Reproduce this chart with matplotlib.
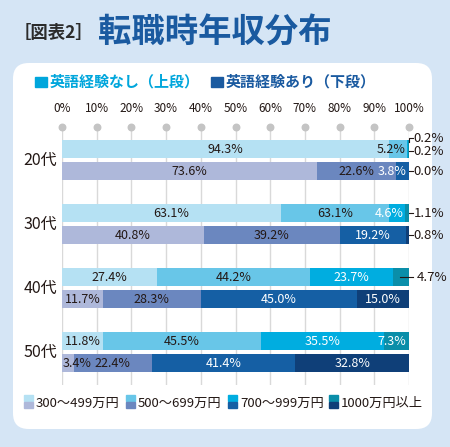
import matplotlib
matplotlib.use("Agg")
import matplotlib.pyplot as plt
from matplotlib.patches import FancyBboxPatch, Rectangle
import numpy as np

# ---- data ----
groups = ["20代", "30代", "40代", "50代"]
bands = ["300～499万円", "500～699万円", "700～999万円", "1000万円以上"]
upper_vals = [[94.3, 5.2, 0.2, 0.2],
              [63.1, 31.2, 4.6, 1.1],
              [27.4, 44.2, 23.7, 4.7],
              [11.8, 45.5, 35.5, 7.3]]
lower_vals = [[73.6, 22.6, 3.8, 0.0],
              [40.8, 39.2, 19.2, 0.8],
              [11.7, 28.3, 45.0, 15.0],
              [3.4, 22.4, 41.4, 32.8]]
# printed labels inside the bars (as in the source, incl. its 63.1% typo)
upper_txt = [["94.3%", "5.2%", "", ""],
             ["63.1%", "63.1%", "4.6%", ""],
             ["27.4%", "44.2%", "23.7%", ""],
             ["11.8%", "45.5%", "35.5%", "7.3%"]]
lower_txt = [["73.6%", "22.6%", "3.8%", ""],
             ["40.8%", "39.2%", "19.2%", ""],
             ["11.7%", "28.3%", "45.0%", "15.0%"],
             ["3.4%", "22.4%", "41.4%", "32.8%"]]
ticks = [0, 10, 20, 30, 40, 50, 60, 70, 80, 90, 100]

up_colors = ["#b5e1f3", "#68c6e8", "#00ade0", "#0a8ea9"]
lo_colors = ["#aeb8da", "#6b87bf", "#155fa4", "#0f3f78"]
dark = "#231815"
NUM = ["Liberation Sans Narrow", "Noto Sans CJK JP", "DejaVu Sans"]
JP = ["Noto Sans CJK JP", "DejaVu Sans"]

W, H = 450, 447
fig = plt.figure(figsize=(W / 100, H / 100), dpi=100)
fig.patch.set_facecolor("#d5e5f5")

def fx(x):
    return x / W

def fy(y):
    return 1 - y / H

# white rounded panel (behind the axes)
panel = FancyBboxPatch((fx(13), fy(429)), fx(432) - fx(13), fy(63) - fy(429),
                       boxstyle="round,pad=0,rounding_size=0.035",
                       transform=fig.transFigure, facecolor="white",
                       edgecolor="none", zorder=-5)
fig.patches.append(panel)

# title
fig.text(fx(14), fy(33), "［図表2］", family=JP, fontsize=12.5, color="#2b2b2b",
         va="center", ha="left", weight="bold")
fig.text(fx(98), fy(33), "転職時年収分布", family=JP, fontsize=24, color="#1a5aa0",
         va="center", ha="left", weight="bold")

# top legend
fig.patches.append(Rectangle((fx(35), fy(87)), fx(12), 10 / H,
                             transform=fig.transFigure, color="#00a6dc"))
fig.text(fx(50), fy(82), "英語経験なし（上段）", family=JP, fontsize=10.8, color="#00a6dc",
         va="center", ha="left", weight="bold")
fig.patches.append(Rectangle((fx(211), fy(87)), fx(12), 10 / H,
                             transform=fig.transFigure, color="#1a5aa0"))
fig.text(fx(226), fy(82), "英語経験あり（下段）", family=JP, fontsize=10.8, color="#1a5aa0",
         va="center", ha="left", weight="bold")

# main axes in pixel-ish y units
top, bot = 127, 385
ax = fig.add_axes([fx(62), fy(bot), fx(409) - fx(62), fy(top) - fy(bot)])
ax.set_xlim(0, 100)
ax.set_ylim(bot, top)
ax.axis("off")

ax.vlines(ticks, top, bot, color="#d9d9d9", lw=1, zorder=1)
ax.scatter(ticks, [top] * len(ticks), s=22, color="#c4c4c4", zorder=2, clip_on=False)
for t in ticks:
    ax.text(t, 108, f"{t}%", family=NUM, fontsize=8.5, color=dark,
            ha="center", va="center", clip_on=False)

bh = 18.5
centers = 160 + 64 * np.arange(len(groups))
right_aligned = {("u", 0, 1), ("u", 1, 2), ("l", 0, 2), ("u", 3, 3)}
left_aligned = {("l", 3, 0)}

for g, c in enumerate(centers):
    ax.text(-1.5, c, groups[g], family=JP, fontsize=11.5, color=dark,
            ha="right", va="center", clip_on=False)
    for tag, vals, txts, cols, yc in (("u", upper_vals, upper_txt, up_colors, c - 11),
                                      ("l", lower_vals, lower_txt, lo_colors, c + 11)):
        left = 0
        for k in range(4):
            v = vals[g][k]
            ax.barh(yc, v, left=left, height=bh, color=cols[k], zorder=3)
            s = txts[g][k]
            if s:
                col = "white" if k >= 2 else dark
                if (tag, g, k) in right_aligned:
                    x, ha = min(left + v, 99.6) - 0.4, "right"
                elif (tag, g, k) in left_aligned:
                    x, ha = 0.3, "left"
                else:
                    x, ha = left + v / 2, "center"
                ax.text(x, yc, s, family=NUM, fontsize=9, color=col,
                        ha=ha, va="center", zorder=5)
            left += v

# labels for the thin segments, outside on the right
ol = dict(family=NUM, fontsize=9.5, color=dark, ha="left", va="center", clip_on=False)
lk = dict(color=dark, lw=0.8, clip_on=False, zorder=5)
# 20代 upper: two 0.2% slices
yu = centers[0] - 11
ax.plot([100, 100, 101.2], [yu - 7, yu - 11, yu - 11], **lk)
ax.text(101.4, yu - 10.5, f"{upper_vals[0][3]:.1f}%", **ol)
ax.plot([100, 101.2], [yu + 2, yu + 2], **lk)
ax.text(101.4, yu + 2, f"{upper_vals[0][2]:.1f}%", **ol)
# 20代 lower 0.0%, 30代 upper 1.1%, 30代 lower 0.8%
for yc, v in ((centers[0] + 11, lower_vals[0][3]),
              (centers[1] - 11, upper_vals[1][3]),
              (centers[1] + 11, lower_vals[1][3])):
    ax.plot([100, 101.2], [yc, yc], **lk)
    ax.text(101.4, yc, f"{v:.1f}%", **ol)
# 40代 upper 4.7%
yc = centers[2] - 11
ax.plot([97.5, 101.2], [yc, yc], **lk)
ax.text(102.2, yc, f"{upper_vals[2][3]:.1f}%", **ol)

# bottom legend with two-tone swatches
leg_x = [24, 126, 228, 329]
for i, name in enumerate(bands):
    fig.patches.append(Rectangle((fx(leg_x[i]), fy(401)), fx(9), 6 / H,
                                 transform=fig.transFigure, color=up_colors[i]))
    fig.patches.append(Rectangle((fx(leg_x[i]), fy(408)), fx(9), 6 / H,
                                 transform=fig.transFigure, color=lo_colors[i]))
    fig.text(fx(leg_x[i] + 12), fy(403), name, family=NUM, fontsize=9.5, color=dark,
             ha="left", va="center")

fig.savefig("out.png", dpi=100, facecolor=fig.get_facecolor())
